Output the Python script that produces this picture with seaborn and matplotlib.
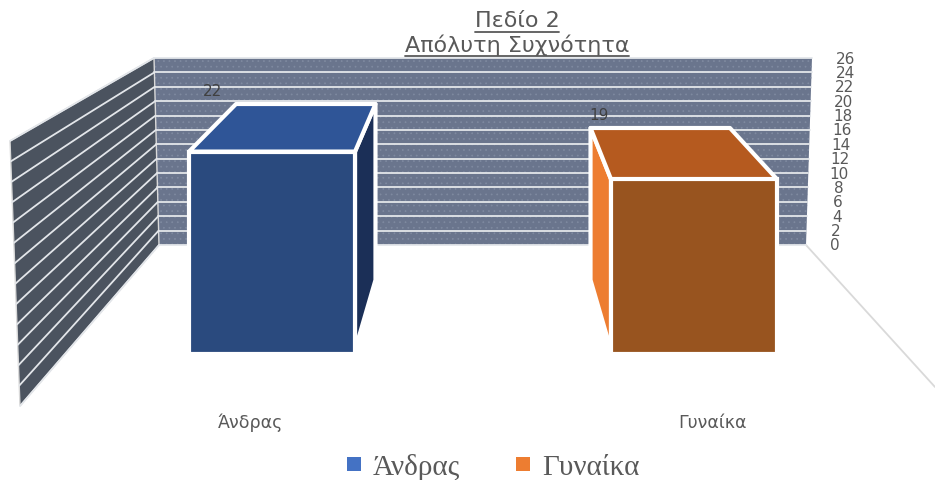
import pandas as pd
import numpy as np
import matplotlib.pyplot as plt
import seaborn as sns
from matplotlib.patches import Patch, Polygon

categories = ['Άνδρας', 'Γυναίκα']
values = [22, 19]
wall_ticks = list(range(0, 27, 2))

front_colors = {'Άνδρας': '#2a4a7e', 'Γυναίκα': '#98541f'}
top_colors = ['#2f5597', '#b55a1f']
side_colors = ['#1b2f57', '#ed7d31']
legend_colors = ['#4472c4', '#ed7d31']
text_grey = '#595959'

W, H = 935, 481
sns.set_theme(style='white')
plt.rcParams['font.family'] = ['DejaVu Sans']
plt.rcParams['hatch.linewidth'] = 0.5

fig = plt.figure(figsize=(W / 100, H / 100), dpi=100, facecolor='white')

# pixel canvas for the fake 3d walls
bg = fig.add_axes([0, 0, 1, 1], zorder=0)
bg.set_xlim(0, W)
bg.set_ylim(H, 0)
bg.axis('off')


def lerp(a, b, t):
    return a + (b - a) * t


# back wall corners
bw_tl, bw_tr, bw_br, bw_bl = (154, 59), (812, 59), (806, 246), (159, 246)
# left wall front edge
lw_t, lw_b = (10, 142), (20, 407)

bg.add_patch(Polygon([bw_tl, bw_tr, bw_br, bw_bl], closed=True, facecolor='#6a758d',
                     edgecolor='#7f8aa0', hatch='...', lw=0, zorder=1))
bg.add_patch(Polygon([lw_t, bw_tl, bw_bl, lw_b], closed=True, facecolor='#4b535f',
                     edgecolor='#d9d9d9', lw=1, zorder=1))

# gridlines and tick labels
for v in wall_ticks:
    t = v / 26
    y = lerp(246, 59, t)
    xl = lerp(159, 154, t)
    xr = lerp(806, 812, t)
    xf = lerp(20, 10, t)
    yf = lerp(407, 142, t)
    bg.plot([xl, xr], [y, y], color='#e3e6ea', lw=1.3, zorder=2)
    bg.plot([xf, xl], [yf, y], color='#e3e6ea', lw=1.3, zorder=2)
    bg.text(lerp(835, 846, t), y, str(v), ha='center', va='center', fontsize=11, color=text_grey)

# floor edges
bg.plot([806, 935], [246, 388], color='#d9d9d9', lw=1.3, zorder=1)

# front faces of the bars
df = pd.DataFrame({'sex': categories, 'count': values})
scale = 9.2
base_px = 355
x_unit = 422
ax = fig.add_axes([61 / W, (H - base_px) / H, 2 * x_unit / W, 26 * scale / H], zorder=1)
ax.patch.set_alpha(0)
sns.barplot(data=df, x='sex', y='count', hue='sex', palette=front_colors, saturation=1,
            width=166 / x_unit, edgecolor='white', linewidth=3, legend=False, ax=ax)
ax.set_xlim(-0.5, 1.5)
ax.set_ylim(0, 26)
ax.axis('off')

fig.canvas.draw()


def to_px(x, y):
    px, py = ax.transData.transform((x, y))
    return px, H - py


def back_x(px):
    return 483 + (px - 483) * 0.84


def back_y(v):
    return 281 - 8 * v


# top and side faces, projected from the drawn bars
for i, (bar, v) in enumerate(zip(ax.patches, values)):
    x0, top = to_px(bar.get_x(), bar.get_height())
    x1, _ = to_px(bar.get_x() + bar.get_width(), 0)
    bx0, bx1, by = back_x(x0), back_x(x1), back_y(v)
    bg.add_patch(Polygon([(x0, top), (x1, top), (bx1, by), (bx0, by)], closed=True,
                         facecolor=top_colors[i], edgecolor='white', lw=3, joinstyle='round', zorder=4))
    near, far = (x1, bx1) if i == 0 else (x0, bx0)
    _, tip = to_px(0, 0.4)
    bg.add_patch(Polygon([(near, top), (far, by), (far, back_y(0)), (near, tip)], closed=True,
                         facecolor=side_colors[i], edgecolor='white', lw=3, joinstyle='round', zorder=3))

# value labels
for label, xy in zip(values, [(212, 91), (599, 116)]):
    bg.text(*xy, str(label), ha='center', va='center', fontsize=11, color='#404040', zorder=5)

# category labels
for label, x in zip(categories, [251, 713]):
    bg.text(x, 423, label, ha='center', va='center', fontsize=12.5, color=text_grey)

# title, underlined by hand
renderer = fig.canvas.get_renderer()
for label, y in zip(['Πεδίο 2', 'Απόλυτη Συχνότητα'], [21, 45]):
    t = bg.text(517, y, label, ha='center', va='center', fontsize=16, color=text_grey, zorder=6)
    ext = t.get_window_extent(renderer)
    bg.plot([ext.x0, ext.x1], [y + 12, y + 12], color=text_grey, lw=1.3, zorder=6)

handles = [Patch(facecolor=c, edgecolor='none') for c in legend_colors]
fig.legend(handles, categories, loc='center', bbox_to_anchor=(493 / W, (H - 468) / H), ncol=2,
           frameon=False, prop={'family': 'Liberation Serif', 'size': 21}, labelcolor=text_grey,
           handlelength=0.5, handleheight=0.32, handletextpad=0.4, columnspacing=1.9,
           borderpad=0, borderaxespad=0)

fig.savefig('out.png', dpi=100, facecolor='white')
